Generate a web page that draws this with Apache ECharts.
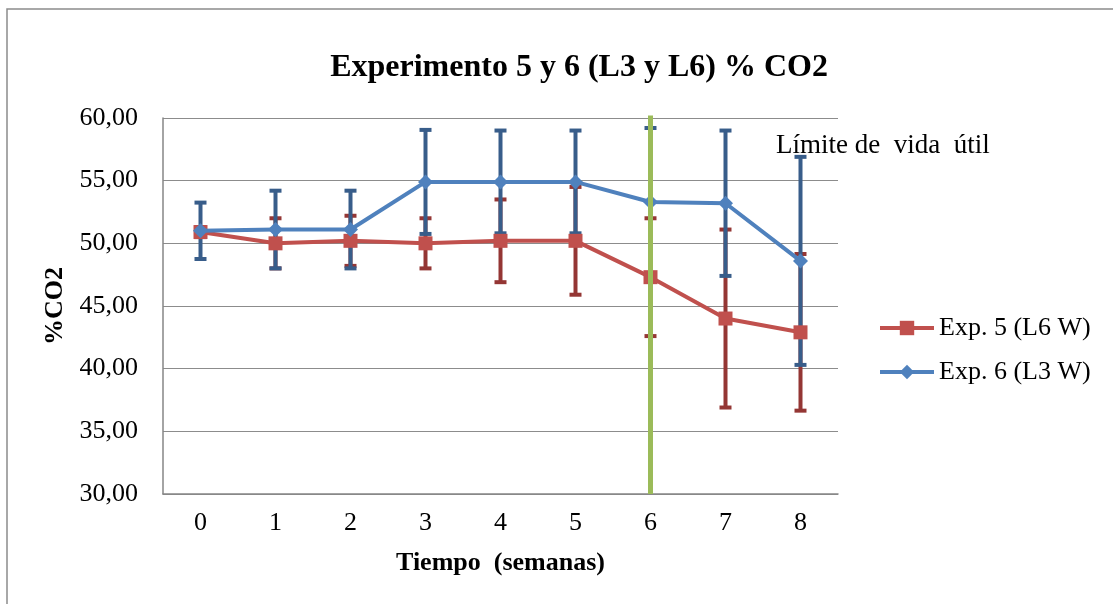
<!DOCTYPE html>
<html>
<head>
<meta charset="utf-8">
<script src="https://cdn.jsdelivr.net/npm/echarts@6/dist/echarts.min.js"></script>
<style>
html,body{margin:0;padding:0;background:#fff;}
#chart{width:1113px;height:604px;}
</style>
</head>
<body>
<div id="chart"></div>
<script>
var weeks = ['0','1','2','3','4','5','6','7','8'];
var exp5 = [50.9, 50.0, 50.2, 50.0, 50.2, 50.2, 47.3, 44.0, 42.9];
var exp5Err = [0.4, 2.0, 2.0, 2.0, 3.3, 4.3, 4.7, 7.1, 6.25];
var exp6 = [51.0, 51.1, 51.1, 54.9, 54.9, 54.9, 53.3, 53.2, 48.6];
var exp6Err = [2.25, 3.1, 3.1, 4.15, 4.1, 4.1, 5.9, 5.8, 8.3];
var yTicks = [30, 35, 40, 45, 50, 55, 60];
var limitWeek = '6';
var limitText = 'Límite de  vida  útil';

var FONT = '"Liberation Serif", "Times New Roman", serif';

function errData(vals, errs) {
  return vals.map(function (v, i) { return [i, v - errs[i], v + errs[i]]; });
}
function errRender(color) {
  return function (params, api) {
    var x = api.value(0);
    var lo = api.coord([x, api.value(1)]);
    var hi = api.coord([x, api.value(2)]);
    var hw = 6;
    var st = { stroke: color, lineWidth: 4 };
    return {
      type: 'group',
      children: [
        { type: 'line', shape: { x1: lo[0], y1: lo[1], x2: hi[0], y2: hi[1] }, style: st },
        { type: 'line', shape: { x1: hi[0] - hw, y1: hi[1], x2: hi[0] + hw, y2: hi[1] }, style: st },
        { type: 'line', shape: { x1: lo[0] - hw, y1: lo[1], x2: lo[0] + hw, y2: lo[1] }, style: st }
      ]
    };
  };
}

var chart = echarts.init(document.getElementById('chart'));
chart.setOption({
  animation: false,
  backgroundColor: '#fff',
  title: {
    text: 'Experimento 5 y 6 (L3 y L6) % CO2',
    left: 574, top: 47, textAlign: 'center',
    textStyle: { fontFamily: FONT, fontSize: 32, fontWeight: 'bold', color: '#000' }
  },
  graphic: [
    { type: 'rect', shape: { x: 7, y: 9, width: 1130, height: 640 }, style: { fill: null, stroke: '#8c8c8c', lineWidth: 1.5 }, silent: true, z: -10 },
    { type: 'text', left: 776, top: 132, style: { text: limitText, font: '27px ' + FONT, fill: '#000' }, z: 100 }
  ],
  legend: {
    data: [
      { name: 'Exp. 5 (L6 W)' },
      { name: 'Exp. 6 (L3 W)' }
    ],
    orient: 'vertical',
    left: 878, top: 315, padding: 0,
    itemWidth: 54, itemHeight: 18, itemGap: 18,
    lineStyle: { width: 4 },
    textStyle: { fontFamily: FONT, fontSize: 26, color: '#000' }
  },
  grid: { left: 163, right: 275, top: 118, bottom: 110 },
  xAxis: {
    type: 'category',
    data: weeks,
    boundaryGap: true,
    name: 'Tiempo  (semanas)',
    nameLocation: 'middle',
    nameGap: 56,
    nameTextStyle: { fontFamily: FONT, fontSize: 26, fontWeight: 'bold', color: '#000' },
    axisLine: { lineStyle: { color: '#868686', width: 1.5 } },
    axisTick: { show: false },
    axisLabel: { margin: 16, fontFamily: FONT, fontSize: 26, color: '#000' }
  },
  yAxis: {
    type: 'value',
    min: yTicks[0], max: yTicks[yTicks.length - 1], interval: 5,
    name: '%CO2',
    nameLocation: 'middle',
    nameGap: 86,
    nameTextStyle: { fontFamily: FONT, fontSize: 26, fontWeight: 'bold', color: '#000' },
    axisLine: { show: true, lineStyle: { color: '#868686', width: 1.5 } },
    axisTick: { show: false },
    splitLine: { lineStyle: { color: '#8c8c8c', width: 1.2 } },
    axisLabel: {
      margin: 25, fontFamily: FONT, fontSize: 26, color: '#000',
      formatter: function (v) { return v.toFixed(2).replace('.', ','); }
    }
  },
  series: [
    {
      type: 'custom', name: 'err5', renderItem: errRender('#943634'),
      data: errData(exp5, exp5Err), z: 1, silent: true,
      encode: { x: 0, y: [1, 2] }
    },
    {
      type: 'custom', name: 'err6', renderItem: errRender('#385d8a'),
      data: errData(exp6, exp6Err), z: 2, silent: true,
      encode: { x: 0, y: [1, 2] }
    },
    {
      type: 'line', name: 'Exp. 5 (L6 W)', data: exp5, z: 3,
      symbol: 'rect', symbolSize: 14,
      lineStyle: { color: '#c0504d', width: 4 },
      itemStyle: { color: '#c0504d' }
    },
    {
      type: 'line', name: 'Exp. 6 (L3 W)', data: exp6, z: 4,
      symbol: 'diamond', symbolSize: 15,
      lineStyle: { color: '#4f81bd', width: 4 },
      itemStyle: { color: '#4f81bd' }
    },
    {
      type: 'line', name: 'limite', z: 10, silent: true,
      data: [[limitWeek, 30], [limitWeek, 60.25]],
      symbol: 'none',
      lineStyle: { color: '#9bbb59', width: 5 }
    }
  ]
});
</script>
</body>
</html>
